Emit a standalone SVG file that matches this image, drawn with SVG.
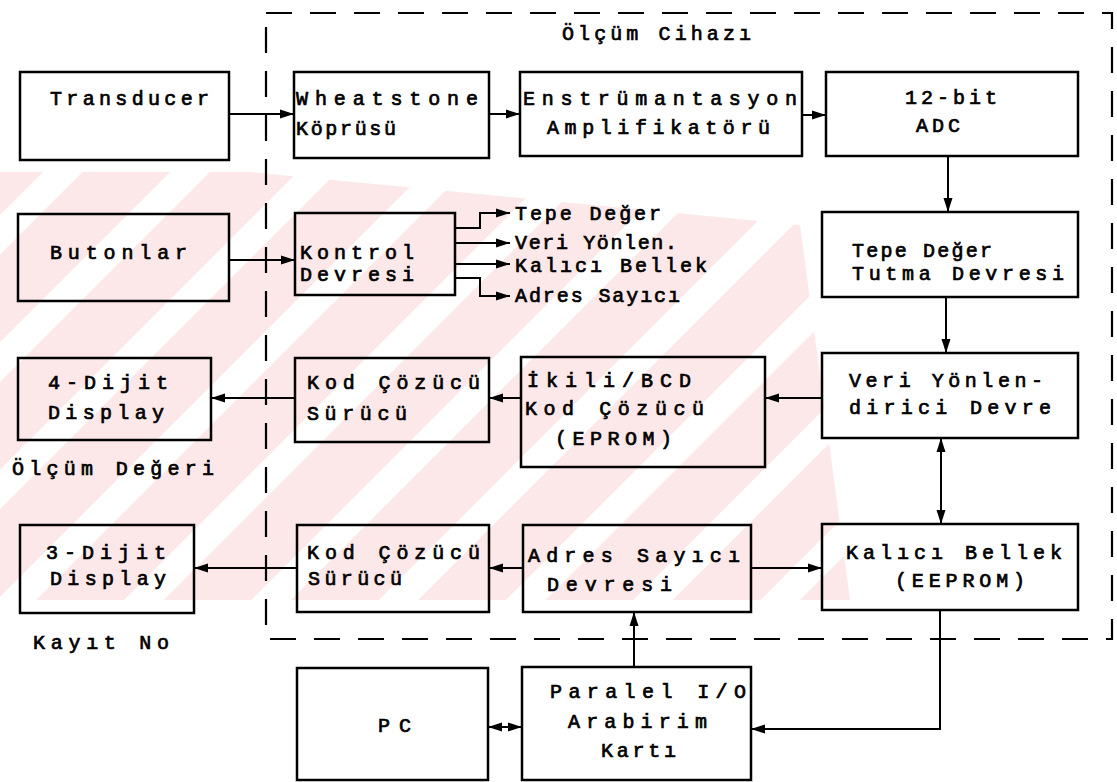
<svg xmlns="http://www.w3.org/2000/svg" width="1117" height="782" viewBox="0 0 1117 782">
<defs>
<marker id="ah" markerUnits="userSpaceOnUse" markerWidth="16" markerHeight="12" refX="14" refY="6" orient="auto-start-reverse"><path d="M0,1.5 L14,6 L0,10.5 Z" fill="#000"/></marker>
<pattern id="wm" patternUnits="userSpaceOnUse" width="90" height="90" patternTransform="rotate(45)"><rect x="0" y="0" width="62" height="90" fill="#fce8e8"/></pattern>
<style>
.box{fill:none;stroke:#000;stroke-width:2.5}
.t{font-family:"Liberation Mono","DejaVu Sans Mono",monospace;font-size:20px;fill:#000;stroke:#000;stroke-width:0.7}
.c{fill:none;stroke:#000;stroke-width:2}
.frame{fill:none;stroke:#000;stroke-width:2.2;stroke-dasharray:26 18}
</style>
</defs>
<rect width="1117" height="782" fill="#fff"/>
<polygon id="watermark" points="0,172 250,172 800,225 850,600 0,600" fill="url(#wm)"/>
<g id="frame">
<path class="frame" d="M266,13 H1112 V639 H266 Z"/>
<text class="t" x="562" y="40" textLength="189">Ölçüm Cihazı</text>
</g>
<g id="connectors">
<line class="c" x1="229" y1="114" x2="294" y2="114" marker-end="url(#ah)"/>
<line class="c" x1="489" y1="114" x2="520" y2="114" marker-end="url(#ah)"/>
<line class="c" x1="802" y1="115" x2="826" y2="115" marker-end="url(#ah)"/>
<line class="c" x1="948" y1="156" x2="948" y2="212" marker-end="url(#ah)"/>
<line class="c" x1="946" y1="297" x2="946" y2="353" marker-end="url(#ah)"/>
<line class="c" x1="822" y1="398" x2="765" y2="398" marker-end="url(#ah)"/>
<line class="c" x1="521" y1="398" x2="489" y2="398" marker-end="url(#ah)"/>
<line class="c" x1="295" y1="398" x2="211" y2="398" marker-end="url(#ah)"/>
<line class="c" x1="941" y1="438" x2="941" y2="524" marker-start="url(#ah)" marker-end="url(#ah)"/>
<line class="c" x1="751" y1="568" x2="822" y2="568" marker-end="url(#ah)"/>
<line class="c" x1="523" y1="568" x2="489" y2="568" marker-end="url(#ah)"/>
<line class="c" x1="297" y1="568" x2="194" y2="568" marker-end="url(#ah)"/>
<line class="c" x1="634" y1="667" x2="634" y2="612" marker-end="url(#ah)"/>
<path class="c" d="M940,610 V729 H751" marker-end="url(#ah)"/>
<line class="c" x1="488" y1="727" x2="522" y2="727" marker-start="url(#ah)" marker-end="url(#ah)"/>
<line class="c" x1="229" y1="260" x2="295" y2="260" marker-end="url(#ah)"/>
<path class="c" d="M455,228 H480 V213 H510" marker-end="url(#ah)"/>
<line class="c" x1="455" y1="243" x2="510" y2="243" marker-end="url(#ah)"/>
<line class="c" x1="455" y1="264" x2="510" y2="264" marker-end="url(#ah)"/>
<path class="c" d="M455,278 H480 V296 H510" marker-end="url(#ah)"/>
</g>
<g id="transducer"><rect class="box" x="20" y="72" width="209" height="88"/><text class="t" x="50" y="105" textLength="159">Transducer</text></g>
<g id="wheatstone"><rect class="box" x="294" y="72" width="195" height="86"/><text class="t" x="296" y="105" textLength="182">Wheatstone</text><text class="t" x="296" y="135" textLength="100">Köprüsü</text></g>
<g id="enstrumantasyon"><rect class="box" x="520" y="72" width="282" height="84"/><text class="t" x="523" y="105" textLength="274">Enstrümantasyon</text><text class="t" x="547" y="134" textLength="223">Amplifikatörü</text></g>
<g id="adc"><rect class="box" x="826" y="72" width="252" height="84"/><text class="t" x="905" y="104" textLength="92">12-bit</text><text class="t" x="916" y="132" textLength="44">ADC</text></g>
<g id="butonlar"><rect class="box" x="18" y="214" width="211" height="87"/><text class="t" x="50" y="259" textLength="137">Butonlar</text></g>
<g id="kontrol"><rect class="box" x="295" y="213" width="160" height="82"/><text class="t" x="300" y="259" textLength="114">Kontrol</text><text class="t" x="300" y="281" textLength="114">Devresi</text></g>
<g id="kontrol-labels">
<text class="t" x="515" y="220" textLength="146">Tepe Değer</text>
<text class="t" x="515" y="249" textLength="162">Veri Yönlen.</text>
<text class="t" x="515" y="272" textLength="192">Kalıcı Bellek</text>
<text class="t" x="515" y="302" textLength="165">Adres Sayıcı</text>
</g>
<g id="tepe"><rect class="box" x="822" y="212" width="256" height="85"/><text class="t" x="852" y="257" textLength="140">Tepe Değer</text><text class="t" x="852" y="280" textLength="212">Tutma Devresi</text></g>
<g id="dijit4"><rect class="box" x="18" y="358" width="193" height="82"/><text class="t" x="48" y="389" textLength="120">4-Dijit</text><text class="t" x="48" y="419" textLength="116">Display</text></g>
<text class="t" x="12" y="475" textLength="202">Ölçüm Değeri</text>
<g id="kod1"><rect class="box" x="295" y="358" width="194" height="84"/><text class="t" x="307" y="389" textLength="173">Kod Çözücü</text><text class="t" x="307" y="420" textLength="100">Sürücü</text></g>
<g id="ikili"><rect class="box" x="521" y="357" width="244" height="110"/><text class="t" x="527" y="387" textLength="164">İkili/BCD</text><text class="t" x="525" y="415" textLength="179">Kod Çözücü</text><text class="t" x="555" y="445" textLength="117">(EPROM)</text></g>
<g id="veri"><rect class="box" x="822" y="353" width="256" height="85"/><text class="t" x="849" y="387" textLength="194">Veri Yönlen-</text><text class="t" x="849" y="414" textLength="202">dirici Devre</text></g>
<g id="dijit3"><rect class="box" x="20" y="525" width="174" height="88"/><text class="t" x="46" y="559" textLength="120">3-Dijit</text><text class="t" x="50" y="585" textLength="116">Display</text></g>
<text class="t" x="33" y="649" textLength="136">Kayıt No</text>
<g id="kod2"><rect class="box" x="297" y="525" width="192" height="87"/><text class="t" x="307" y="559" textLength="173">Kod Çözücü</text><text class="t" x="308" y="585" textLength="94">Sürücü</text></g>
<g id="adres"><rect class="box" x="523" y="525" width="228" height="87"/><text class="t" x="528" y="562" textLength="212">Adres Sayıcı</text><text class="t" x="547" y="591" textLength="125">Devresi</text></g>
<g id="kalici"><rect class="box" x="822" y="524" width="256" height="86"/><text class="t" x="846" y="559" textLength="216">Kalıcı Bellek</text><text class="t" x="895" y="587" textLength="130">(EEPROM)</text></g>
<g id="pc"><rect class="box" x="297" y="668" width="191" height="112"/><text class="t" x="378" y="732" textLength="33">PC</text></g>
<g id="paralel"><rect class="box" x="522" y="667" width="229" height="113"/><text class="t" x="550" y="698" textLength="196">Paralel I/O</text><text class="t" x="568" y="728" textLength="139">Arabirim</text><text class="t" x="601" y="757" textLength="75">Kartı</text></g>
</svg>
